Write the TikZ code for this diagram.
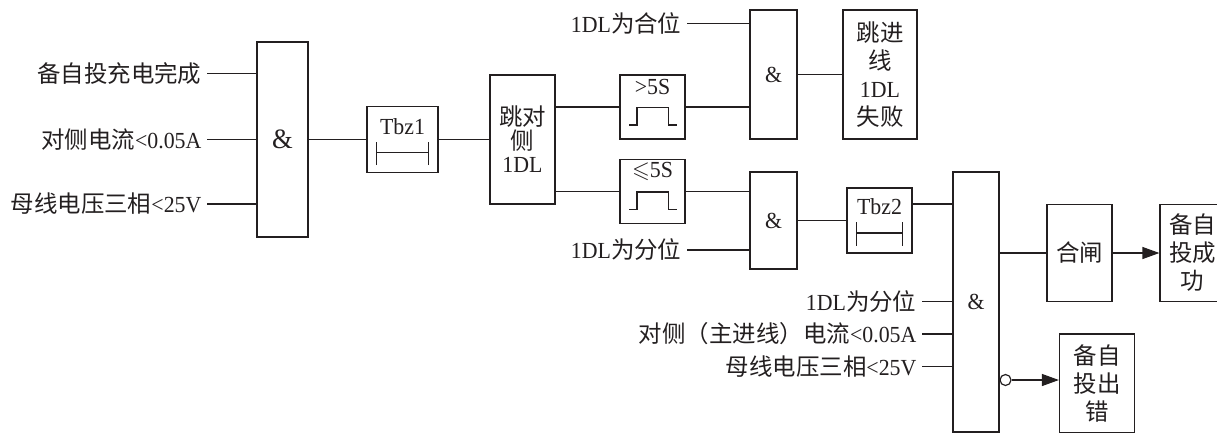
\documentclass[tikz,border=0pt]{standalone}
\usepackage{amssymb}
\usepackage{fontspec}
\setmainfont{Liberation Serif}[FakeStretch=0.95]
\newfontfamily\cjk[Scale=1.02]{Noto Sans CJK SC}
\usetikzlibrary{arrows.meta}
\definecolor{ink}{RGB}{35,31,32}
\begin{document}
\begin{tikzpicture}[x=1pt,y=-1pt,line width=1.2pt,color=ink,
  gate/.style={draw,rectangle,inner sep=0pt,font=\fontsize{23}{23}\selectfont},
  box/.style={draw,rectangle,inner sep=0pt,align=center,font=\fontsize{23}{28}\selectfont},
  lbl/.style={anchor=east,inner xsep=5pt,inner ysep=0pt,font=\fontsize{23}{23}\selectfont},
  txt/.style={inner sep=0pt,font=\fontsize{23}{23}\selectfont},
  tbz/.style={draw,rectangle,inner sep=0pt,
    path picture={
      \draw ([xshift=9.5pt,yshift=20pt]path picture bounding box.south west) -- ([xshift=-9.5pt,yshift=20pt]path picture bounding box.south east);
      \draw ([xshift=9.5pt,yshift=7.5pt]path picture bounding box.south west) -- ([xshift=9.5pt,yshift=31pt]path picture bounding box.south west);
      \draw ([xshift=-9.5pt,yshift=7.5pt]path picture bounding box.south east) -- ([xshift=-9.5pt,yshift=31pt]path picture bounding box.south east);
    }},
  pulse/.style={draw,rectangle,inner sep=0pt,minimum width=65,minimum height=64,
    path picture={
      \draw ([xshift=9pt,yshift=14pt]path picture bounding box.south west) -- ++(8pt,0pt) -- ++(0pt,17.5pt) -- ++(31.5pt,0pt) -- ++(0pt,-17.5pt) -- ++(8.5pt,0pt);
    }},
  arr/.style={-{Triangle[length=17pt,width=12pt]}}
]
\useasboundingbox (0,0) rectangle (1217,433);

% first AND gate
\node[gate,minimum width=51,minimum height=195,font=\fontsize{28}{28}\selectfont] (g1) at (282.5,139.5) {\&};
\node[lbl] (a1) at (207,73.5) {\cjk 备自投充电完成};
\node[lbl] (a2) at (207,139.5) {{\cjk 对侧电流}<0.05A};
\node[lbl] (a3) at (207,204) {{\cjk 母线电压三相}<25V};
\draw (a1.east) -- (a1.east -| g1.west);
\draw (a2.east) -- (a2.east -| g1.west);
\draw (a3.east) -- (a3.east -| g1.west);

% Tbz1
\node[tbz,minimum width=71,minimum height=66] (t1) at (402.5,139.5) {};
\node[txt] (t1l) at ([yshift=13pt]t1.center) {Tbz1};
\draw (g1.east) -- (t1.west);

% trip opposite 1DL
\node[box,minimum width=65,minimum height=129,font=\fontsize{23}{23.5}\selectfont] (tdc) at (522.5,139.5) {{\cjk 跳对}\\{\cjk 侧}\\1DL};
\draw (t1.east) -- (tdc.west);

% pulse boxes
\node[pulse] (p1) at (652.5,107) {};
\node[txt] (p1l) at ([yshift=20pt]p1.center) {>5S};
\node[pulse] (p2) at (652.5,191.5) {};
\node[txt] (p2l) at ([yshift=20pt]p2.center) {$\leqslant$5S};
\draw (tdc.east |- p1) -- (p1.west);
\draw (tdc.east |- p2) -- (p2.west);

% upper AND gate
\node[gate,minimum width=47,minimum height=129] (g2) at (773.5,74.5) {\&};
\node[lbl] (b1) at (687,23.5) {1DL{\cjk 为合位}};
\draw (b1.east) -- (b1.east -| g2.west);
\draw (p1.east) -- (p1.east -| g2.west);
\node[box,minimum width=74,minimum height=129] (fail) at (880,74.5) {{\cjk 跳进}\\{\cjk 线}\\1DL\\{\cjk 失败}};
\draw (g2.east) -- (g2.east -| fail.west);

% middle AND gate
\node[gate,minimum width=47,minimum height=97] (g3) at (773.5,220.5) {\&};
\draw (p2.east) -- (p2.east -| g3.west);
\node[lbl] (b2) at (687,250) {1DL{\cjk 为分位}};
\draw (b2.east) -- (b2.east -| g3.west);

% Tbz2
\node[tbz,minimum width=65,minimum height=65] (t2) at (879.5,220.5) {};
\node[txt] (t2l) at ([yshift=14pt]t2.center) {Tbz2};
\draw (g3.east) -- (t2.west);

% big AND gate
\node[gate,minimum width=46,minimum height=260] (g4) at (976,302) {\&};
\draw ([yshift=16.5pt]t2.east) -- ([yshift=16.5pt]t2.east -| g4.west);
\node[lbl] (c1) at (922,301.5) {1DL{\cjk 为分位}};
\node[lbl] (c2) at (922,334) {{\cjk 对侧（主进线）电流}<0.05A};
\node[lbl] (c3) at (922,366.5) {{\cjk 母线电压三相}<25V};
\draw (c1.east) -- (c1.east -| g4.west);
\draw (c2.east) -- (c2.east -| g4.west);
\draw (c3.east) -- (c3.east -| g4.west);

% closing and results
\node[box,minimum width=65,minimum height=97] (hz) at (1079.5,253) {\cjk 合闸};
\draw (hz.west -| g4.east) -- (hz.west);
\node[box,minimum width=65,minimum height=97] (ok) at (1192.5,253) {{\cjk 备自}\\{\cjk 投成}\\{\cjk 功}};
\draw[arr] (hz.east) -- (ok.west);

\node[draw,circle,minimum size=11,inner sep=0pt] (neg) at (1005.5,380) {};
\node[box,minimum width=75,minimum height=99] (err) at (1097,383.5) {{\cjk 备自}\\{\cjk 投出}\\{\cjk 错}};
\draw[arr] (neg.east) -- (neg.east -| err.west);
\end{tikzpicture}
\end{document}
